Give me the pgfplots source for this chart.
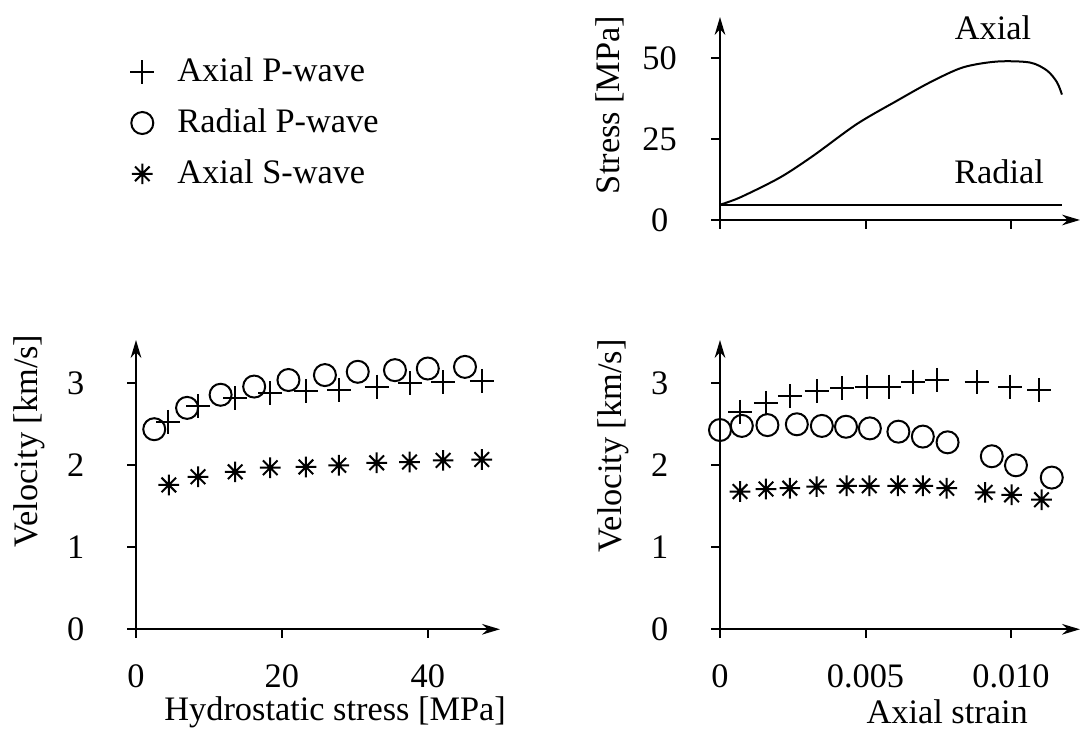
\documentclass[border=0pt]{standalone}
\usepackage{pgfplots}
\pgfplotsset{compat=1.18}
\usepackage{fontspec}
\setmainfont{Liberation Serif}
\usetikzlibrary{arrows.meta}

\pgfdeclareplotmark{star8}{%
  \pgfpathmoveto{\pgfqpoint{-\pgfplotmarksize}{0pt}}%
  \pgfpathlineto{\pgfqpoint{\pgfplotmarksize}{0pt}}%
  \pgfpathmoveto{\pgfqpoint{0pt}{-\pgfplotmarksize}}%
  \pgfpathlineto{\pgfqpoint{0pt}{\pgfplotmarksize}}%
  \pgfpathmoveto{\pgfqpoint{-0.7071\pgfplotmarksize}{-0.7071\pgfplotmarksize}}%
  \pgfpathlineto{\pgfqpoint{0.7071\pgfplotmarksize}{0.7071\pgfplotmarksize}}%
  \pgfpathmoveto{\pgfqpoint{-0.7071\pgfplotmarksize}{0.7071\pgfplotmarksize}}%
  \pgfpathlineto{\pgfqpoint{0.7071\pgfplotmarksize}{-0.7071\pgfplotmarksize}}%
  \pgfusepathqstroke}

\pgfplotsset{
  myax/.style={
    scale only axis,
    axis lines=left,
    axis line style={line width=0.6pt,-{Stealth[length=5.4pt,width=3.2pt]}},
    enlargelimits=false,
    tick align=outside,
    major tick length=2.6pt,
    tick style={line width=0.6pt,black},
    clip=false,
    /pgf/number format/assume math mode=true,
    yticklabel style={anchor=center,xshift=-15.5pt},
    xticklabel style={anchor=center,yshift=-11.4pt},
  },
  pplus/.style={black, line width=0.6pt, only marks, mark=+, mark size=3.6pt},
  pcirc/.style={black, line width=0.6pt, only marks, mark=o, mark size=3.3pt},
  pstar/.style={black, line width=0.6pt, only marks, mark=star8, mark size=3.1pt},
}

\begin{document}
\begin{tikzpicture}[font=\fontsize{10.3}{12}\selectfont]
\useasboundingbox (0,0) rectangle (325.2pt,218.7pt);

% ---------- Bottom-left: velocity vs hydrostatic stress ----------
\begin{axis}[myax,
  at={(40.8pt,29.91pt)}, anchor=south west,
  width=109.2pt, height=86.79pt,
  xmin=0, xmax=49.9, ymin=0, ymax=3.528,
  xtick={0,20,40}, ytick={0,1,2,3},
  xlabel={Hydrostatic stress [MPa]},
  ylabel={Velocity [km/s]},
  xlabel style={at={(axis description cs:0.547,-0.288)},anchor=center},
  ylabel style={at={(axis description cs:-0.294,0.651)},anchor=center,rotate=0},
  legend image code/.code={\path[draw=none,fill=none] (-0.1cm,0cm) -- (0.3cm,0cm);
    \draw[#1,only marks] plot coordinates {(0cm,0cm)};},
  legend style={draw=none, fill=none, at={(axis description cs:-0.045,1.75)}, anchor=west,
    row sep=2.6pt, cells={anchor=west}},
]
\addplot[pplus] coordinates {
 (4.4,2.53) (8.5,2.72) (13.6,2.82) (18.4,2.88) (23.3,2.90)
 (27.8,2.92) (33.0,2.96) (37.5,3.00) (42.1,3.01) (47.4,3.03)};
\addlegendentry{Axial P-wave}
\addplot[pcirc] coordinates {
 (2.5,2.44) (7.0,2.70) (11.6,2.86) (16.2,2.96) (20.9,3.04)
 (25.9,3.10) (30.4,3.14) (35.5,3.16) (40.0,3.18) (45.1,3.20)};
\addlegendentry{Radial P-wave}
\addplot[pstar] coordinates {
 (4.5,1.76) (8.5,1.86) (13.6,1.92) (18.4,1.97) (23.3,1.98)
 (27.8,2.00) (33.0,2.03) (37.5,2.04) (42.1,2.06) (47.4,2.07)};
\addlegendentry{Axial S-wave}
\end{axis}

% ---------- Bottom-right: velocity vs axial strain ----------
\begin{axis}[myax,
  at={(216pt,29.91pt)}, anchor=south west,
  width=108pt, height=86.79pt,
  xmin=0, xmax=0.01237, ymin=0, ymax=3.528,
  xtick={0,0.005,0.01}, xticklabels={0,0.005,0.010},
  ytick={0,1,2,3},
  scaled x ticks=false,
  xlabel={Axial strain},
  ylabel={Velocity [km/s]},
  xlabel style={at={(axis description cs:0.631,-0.286)},anchor=center},
  ylabel style={at={(axis description cs:-0.297,0.634)},anchor=center,rotate=0},
]
\addplot[pplus] coordinates {
 (0.00069,2.65) (0.00158,2.76) (0.0024,2.84) (0.00332,2.90) (0.0042,2.94)
 (0.00506,2.96) (0.00582,2.96) (0.00664,3.02) (0.00744,3.04) (0.00882,3.01)
 (0.00997,2.96) (0.01097,2.92)};
\addplot[pcirc] coordinates {
 (0,2.43) (0.00075,2.48) (0.00163,2.49) (0.00264,2.50) (0.0035,2.48)
 (0.00433,2.47) (0.00515,2.45) (0.00613,2.41) (0.00697,2.35) (0.00782,2.28)
 (0.00934,2.11) (0.01017,2.00) (0.0114,1.85)};
\addplot[pstar] coordinates {
 (0.00069,1.68) (0.00158,1.71) (0.0024,1.72) (0.00332,1.74) (0.00435,1.75)
 (0.00513,1.75) (0.00611,1.75) (0.00697,1.75) (0.00779,1.72) (0.00911,1.67)
 (0.01002,1.64) (0.01105,1.58)};
\end{axis}

% ---------- Top-right: stress vs axial strain ----------
\begin{axis}[myax,
  at={(216pt,152.7pt)}, anchor=south west,
  width=108pt, height=60.9pt,
  xmin=0, xmax=0.01237, ymin=0, ymax=62.65,
  xtick={0,0.005,0.01}, xticklabels={},
  ytick={0,25,50},
  scaled x ticks=false,
  ylabel={Stress [MPa]},
  ylabel style={at={(axis description cs:-0.306,0.567)},anchor=center,rotate=0},
]
\addplot[black, line width=0.6pt, no marks, smooth, tension=0.5] coordinates {
 (0,4.7) (0.0007,7.0) (0.00206,13.1) (0.0032,19.8) (0.0047,29.6)
 (0.00608,36.8) (0.00722,42.5) (0.00835,47.1) (0.00952,48.9)
 (0.01065,48.6) (0.01124,46.1) (0.01158,42.5) (0.01175,38.7)};
\addplot[black, line width=0.6pt, no marks] coordinates {(0,4.7) (0.01175,4.7)};
\node at (axis cs:0.00938,59.3) {Axial};
\node at (axis cs:0.00959,14.8) {Radial};
\end{axis}
\end{tikzpicture}
\end{document}
